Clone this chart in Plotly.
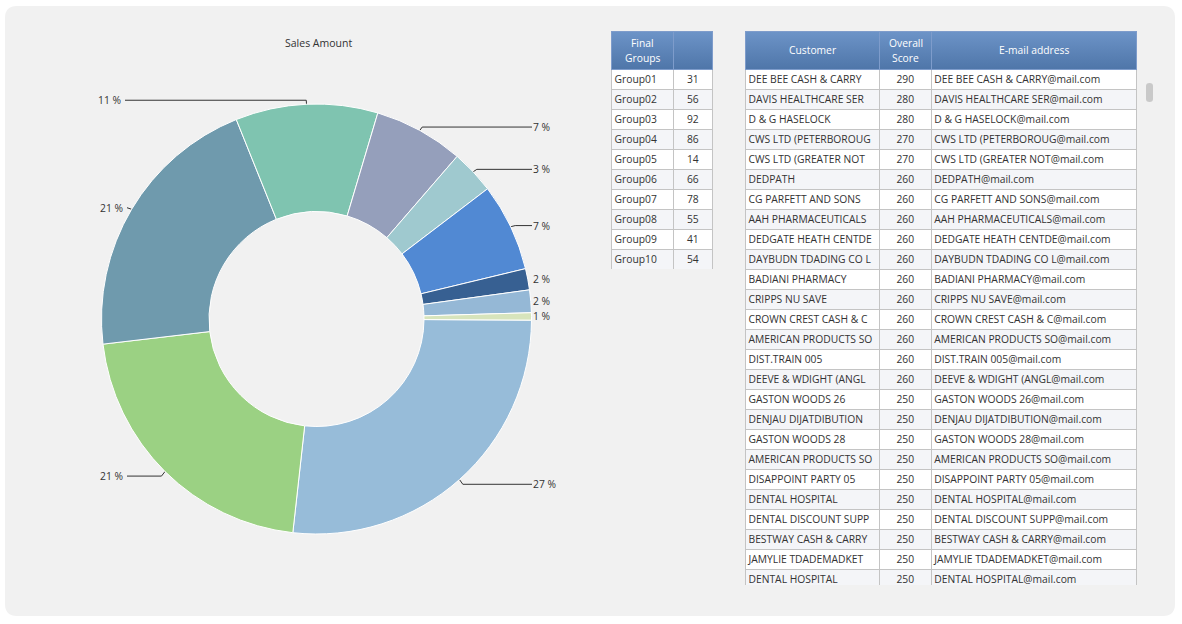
import math
import plotly.graph_objects as go

FONT = "Open Sans"
CX, CY, R = 316.5, 319, 215

sales_share = [26.7, 21.4, 20.8, 10.7, 6.75, 3.3, 6.6, 1.6, 1.7, 0.55]
share_labels = ["27 %", "21 %", "21 %", "11 %", "7 %", "3 %", "7 %", "2 %", "2 %", "1 %"]
slice_colors = ["#97bcd9", "#9bd183", "#6f9aad", "#7fc4b0", "#959fbb",
                "#9fc9cf", "#5189d3", "#376092", "#95b8d6", "#d7e4bc"]
has_leader = [True, True, True, True, True, True, True, False, False, False]
start_angle = 90.3

groups = ["Group01", "Group02", "Group03", "Group04", "Group05",
          "Group06", "Group07", "Group08", "Group09", "Group10"]
group_counts = [31, 56, 92, 86, 14, 66, 78, 55, 41, 54]

customers = ["DEE BEE CASH & CARRY", "DAVIS HEALTHCARE SER", "D & G HASELOCK", "CWS LTD (PETERBOROUG",
             "CWS LTD (GREATER NOT", "DEDPATH", "CG PARFETT AND SONS", "AAH PHARMACEUTICALS",
             "DEDGATE HEATH CENTDE", "DAYBUDN TDADING CO L", "BADIANI PHARMACY", "CRIPPS NU SAVE",
             "CROWN CREST CASH & C", "AMERICAN PRODUCTS SO", "DIST.TRAIN 005", "DEEVE & WDIGHT (ANGL",
             "GASTON WOODS 26", "DENJAU DIJATDIBUTION", "GASTON WOODS 28", "AMERICAN PRODUCTS SO",
             "DISAPPOINT PARTY 05", "DENTAL HOSPITAL", "DENTAL DISCOUNT SUPP", "BESTWAY CASH & CARRY",
             "JAMYLIE TDADEMADKET", "DENTAL HOSPITAL"]
scores = [290, 280, 280, 270, 270, 260, 260, 260, 260, 260, 260, 260, 260,
          260, 260, 260, 250, 250, 250, 250, 250, 250, 250, 250, 250, 250]
emails = [c + "@mail.com" for c in customers]

annots = []


def stripes(n):
    return ["#ffffff" if i % 2 == 0 else "#f4f5f8" for i in range(n)]


def nowrap(items):
    # plotly wraps on spaces and makes rows taller for "&"; both are put back after drawing
    return [str(v).replace(" ", "\u00a0").replace("&", "\uff06") for v in items]


def add_table(fig, left, right, top, bottom, widths, head, cols, aligns):
    # gradient header sits on the pixel axes, under the transparent table header
    fig.add_trace(go.Scatter(
        x=[left, right, right, left, left], y=[top, top, top + 38, top + 38, top],
        mode="lines", fill="toself", line=dict(width=0), hoverinfo="skip", showlegend=False,
        fillgradient=dict(type="vertical", colorscale=[[0, "#4f76a9"], [1, "#6d94c8"]]),
    ))
    fig.add_trace(go.Table(
        domain=dict(x=[left / 1182, right / 1182], y=[1 - bottom / 624, 1 - top / 624]),
        columnwidth=widths,
        header=dict(values=[""] * len(head), height=38, fill_color="rgba(0,0,0,0)",
                    line=dict(color="#7e9ccb", width=1)),
        cells=dict(values=[nowrap(c) for c in cols], height=20, align=aligns,
                   fill_color=[stripes(len(cols[0]))] * len(cols),
                   line=dict(color="#c4c4c4", width=1),
                   font=dict(family=FONT, size=10.3, color="#333333")),
    ))
    # header captions, centred over their columns
    x = left
    for width, caption in zip(widths, head):
        parts = caption.split("<br>")
        for i, part in enumerate(parts):
            annots.append(dict(x=x + width / 2, y=top + 19 + (i - (len(parts) - 1) / 2) * 15,
                               xref="x", yref="y", text=part, showarrow=False,
                               xanchor="center", yanchor="middle",
                               font=dict(family=FONT, size=10.3, color="#ffffff")))
        x += width


fig = go.Figure()

# panel behind everything
fig.add_shape(type="path", xref="x", yref="y", layer="below", line_width=0, fillcolor="#f1f1f1",
              path="M 17 6 L 1163 6 Q 1175 6 1175 18 L 1175 604 Q 1175 616 1163 616 "
                   "L 17 616 Q 5 616 5 604 L 5 18 Q 5 6 17 6 Z")

fig.add_trace(go.Pie(
    values=sales_share, sort=False, direction="clockwise", rotation=start_angle, hole=0.5,
    marker=dict(colors=slice_colors, line=dict(color="#ffffff", width=1)),
    textinfo="none", showlegend=False,
    domain=dict(x=[(CX - R) / 1182, (CX + R) / 1182], y=[1 - (CY + R) / 624, 1 - (CY - R) / 624]),
))

# leader lines and percent labels follow the slice midpoints
total = sum(sales_share)
angle = start_angle
for share, text, leader in zip(sales_share, share_labels, has_leader):
    sweep = share / total * 360
    mid = math.radians(angle + sweep / 2)
    angle += sweep
    right_side = math.sin(mid) >= 0
    x0, y0 = CX + R * math.sin(mid), CY - R * math.cos(mid)
    x1, y1 = CX + (R + 5) * math.sin(mid), CY - (R + 5) * math.cos(mid) + 1
    y_label = y1 if leader else y0
    end = 532 if right_side else (125 if text == "11 %" else 127)
    if leader:
        fig.add_trace(go.Scatter(x=[x0, x1, end], y=[y0, y1, y1], mode="lines",
                                 line=dict(color="#333333", width=1),
                                 hoverinfo="skip", showlegend=False))
    annots.append(dict(x=531 if right_side else end - 2, y=y_label, xref="x", yref="y", text=text,
                       showarrow=False, xanchor="left" if right_side else "right", yanchor="middle",
                       font=dict(family=FONT, size=10.3, color="#333333")))

add_table(fig, 611.5, 713, 31, 270, [62, 39.5],
          ["Final<br>Groups", ""], [groups, group_counts], ["left", "center"])
add_table(fig, 745.5, 1137, 31, 585, [134, 52, 205.5],
          ["Customer", "Overall<br>Score", "E-mail address"],
          [customers, scores, emails], ["left", "center", "left"])

# scrollbar thumb beside the long table
fig.add_shape(type="path", xref="x", yref="y", line_width=0, fillcolor="#c9c9c9",
              path="M 1146 86 Q 1146 83 1149.5 83 Q 1153 83 1153 86 L 1153 99 "
                   "Q 1153 102 1149.5 102 Q 1146 102 1146 99 Z")

annots.append(dict(x=318, y=43, xref="x", yref="y", text="Sales Amount", showarrow=False,
                   xanchor="center", yanchor="middle",
                   font=dict(family=FONT, size=10.5, color="#333333")))

fig.update_layout(
    width=1182, height=624, margin=dict(l=0, r=0, t=0, b=0),
    paper_bgcolor="#ffffff", plot_bgcolor="rgba(0,0,0,0)",
    xaxis=dict(range=[0, 1182], visible=False, domain=[0, 1]),
    yaxis=dict(range=[624, 0], visible=False, domain=[0, 1]),
    annotations=annots,
)

# restore the real characters and sit cell text closer to the left border and row middle
fixups = """
document.body.style.margin = '0';
document.querySelectorAll('.cell-text').forEach(function (t) {
  t.textContent = t.textContent.replace(/\\uff06/g, '&').replace(/\\u00a0/g, ' ');
  var dx = getComputedStyle(t).textAnchor === 'start' ? -5 : 0;
  t.style.transform = 'translate(' + dx + 'px, -2px)';
});
"""
fig.write_html("out.html", post_script=fixups, config={"displayModeBar": False})
